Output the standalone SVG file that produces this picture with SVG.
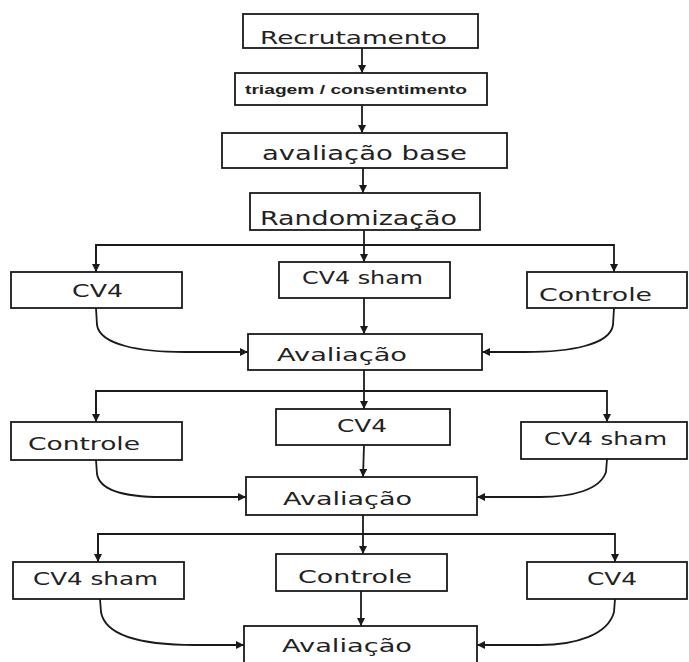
<svg xmlns="http://www.w3.org/2000/svg" width="689" height="662" viewBox="0 0 689 662">
<defs>
<style>
.box{fill:#fff;stroke:#1a1a1a;stroke-width:1.8}
.t{font-family:"DejaVu Sans","Liberation Sans",sans-serif;font-size:18px;fill:#222}
.s{font-family:"Liberation Sans","DejaVu Sans",sans-serif;font-size:13px;font-weight:bold;fill:#222}
.c{fill:none;stroke:#1a1a1a;stroke-width:1.8}
</style>
<marker id="ah" markerUnits="userSpaceOnUse" markerWidth="9" markerHeight="8" refX="8" refY="4" orient="auto">
<path d="M0,0 L8,4 L0,8 z" fill="#1a1a1a"/>
</marker>
</defs>
<rect width="689" height="662" fill="#fff"/>
<g id="connectors">
<path class="c" d="M362,48 V73" marker-end="url(#ah)"/>
<path class="c" d="M362,105 V133" marker-end="url(#ah)"/>
<path class="c" d="M363,168 V193" marker-end="url(#ah)"/>
<path class="c" d="M364,230 V262" marker-end="url(#ah)"/>
<path class="c" d="M96,272 V245 H614 V272" marker-end="url(#ah)"/>
<path class="c" d="M96,245 V272" marker-end="url(#ah)"/>
<path class="c" d="M364,298 V334" marker-end="url(#ah)"/>
<path class="c" d="M96,308 L97,325 C100,345 140,352 185,352 L248,352" marker-end="url(#ah)"/>
<path class="c" d="M614,308 L613,325 C610,345 570,352 525,352 L482,352" marker-end="url(#ah)"/>
<path class="c" d="M364,370 V409" marker-end="url(#ah)"/>
<path class="c" d="M96,422 V391 H607 V422" marker-end="url(#ah)"/>
<path class="c" d="M96,391 V422" marker-end="url(#ah)"/>
<path class="c" d="M364,445 L363,477" marker-end="url(#ah)"/>
<path class="c" d="M96,460 L97,474 C100,492 130,497 162,497 L246,497" marker-end="url(#ah)"/>
<path class="c" d="M607,459 L606,472 C600,490 572,497 540,497 L477,497" marker-end="url(#ah)"/>
<path class="c" d="M363,515 V554" marker-end="url(#ah)"/>
<path class="c" d="M98,562 V534 H615 V562" marker-end="url(#ah)"/>
<path class="c" d="M98,534 V562" marker-end="url(#ah)"/>
<path class="c" d="M361,591 V626" marker-end="url(#ah)"/>
<path class="c" d="M100,599 L101,612 C105,635 140,645 195,645 L244,645" marker-end="url(#ah)"/>
<path class="c" d="M615,599 L614,612 C608,635 575,645 540,645 L477,645" marker-end="url(#ah)"/>
</g>
<g id="n-recrutamento"><rect class="box" x="243" y="14" width="235" height="34"/><text class="t" x="260" y="44" textLength="187" lengthAdjust="spacingAndGlyphs">Recrutamento</text></g>
<g id="n-triagem"><rect class="box" x="235" y="73" width="252" height="32"/><text class="s" x="245" y="94" textLength="222" lengthAdjust="spacingAndGlyphs">triagem / consentimento</text></g>
<g id="n-avaliacao-base"><rect class="box" x="222" y="133" width="285" height="35"/><text class="t" x="262" y="160" style="font-size:20px" textLength="205" lengthAdjust="spacingAndGlyphs">avaliação base</text></g>
<g id="n-randomizacao"><rect class="box" x="250" y="193" width="230" height="37"/><text class="t" x="260" y="225" style="font-size:20px" textLength="197" lengthAdjust="spacingAndGlyphs">Randomização</text></g>
<g id="n-cv4-1"><rect class="box" x="11" y="272" width="171" height="36"/><text class="t" x="72" y="297" textLength="51" lengthAdjust="spacingAndGlyphs">CV4</text></g>
<g id="n-cv4sham-1"><rect class="box" x="279" y="262" width="171" height="36"/><text class="t" x="302" y="284" textLength="121" lengthAdjust="spacingAndGlyphs">CV4 sham</text></g>
<g id="n-controle-1"><rect class="box" x="527" y="272" width="160" height="36"/><text class="t" x="539" y="301" textLength="113" lengthAdjust="spacingAndGlyphs">Controle</text></g>
<g id="n-avaliacao-1"><rect class="box" x="248" y="334" width="234" height="36"/><text class="t" x="277" y="361" textLength="130" lengthAdjust="spacingAndGlyphs">Avaliação</text></g>
<g id="n-controle-2"><rect class="box" x="11" y="422" width="171" height="38"/><text class="t" x="28" y="450" textLength="112" lengthAdjust="spacingAndGlyphs">Controle</text></g>
<g id="n-cv4-2"><rect class="box" x="276" y="409" width="174" height="36"/><text class="t" x="337" y="432" textLength="50" lengthAdjust="spacingAndGlyphs">CV4</text></g>
<g id="n-cv4sham-2"><rect class="box" x="521" y="422" width="166" height="37"/><text class="t" x="544" y="445" textLength="123" lengthAdjust="spacingAndGlyphs">CV4 sham</text></g>
<g id="n-avaliacao-2"><rect class="box" x="246" y="477" width="231" height="38"/><text class="t" x="283" y="505" textLength="129" lengthAdjust="spacingAndGlyphs">Avaliação</text></g>
<g id="n-cv4sham-3"><rect class="box" x="13" y="562" width="171" height="37"/><text class="t" x="33" y="585" textLength="125" lengthAdjust="spacingAndGlyphs">CV4 sham</text></g>
<g id="n-controle-3"><rect class="box" x="276" y="554" width="171" height="37"/><text class="t" x="298" y="583" textLength="114" lengthAdjust="spacingAndGlyphs">Controle</text></g>
<g id="n-cv4-3"><rect class="box" x="527" y="562" width="160" height="37"/><text class="t" x="587" y="585" textLength="50" lengthAdjust="spacingAndGlyphs">CV4</text></g>
<g id="n-avaliacao-3"><rect class="box" x="244" y="626" width="233" height="44"/><text class="t" x="282" y="652" textLength="130" lengthAdjust="spacingAndGlyphs">Avaliação</text></g>
</svg>
